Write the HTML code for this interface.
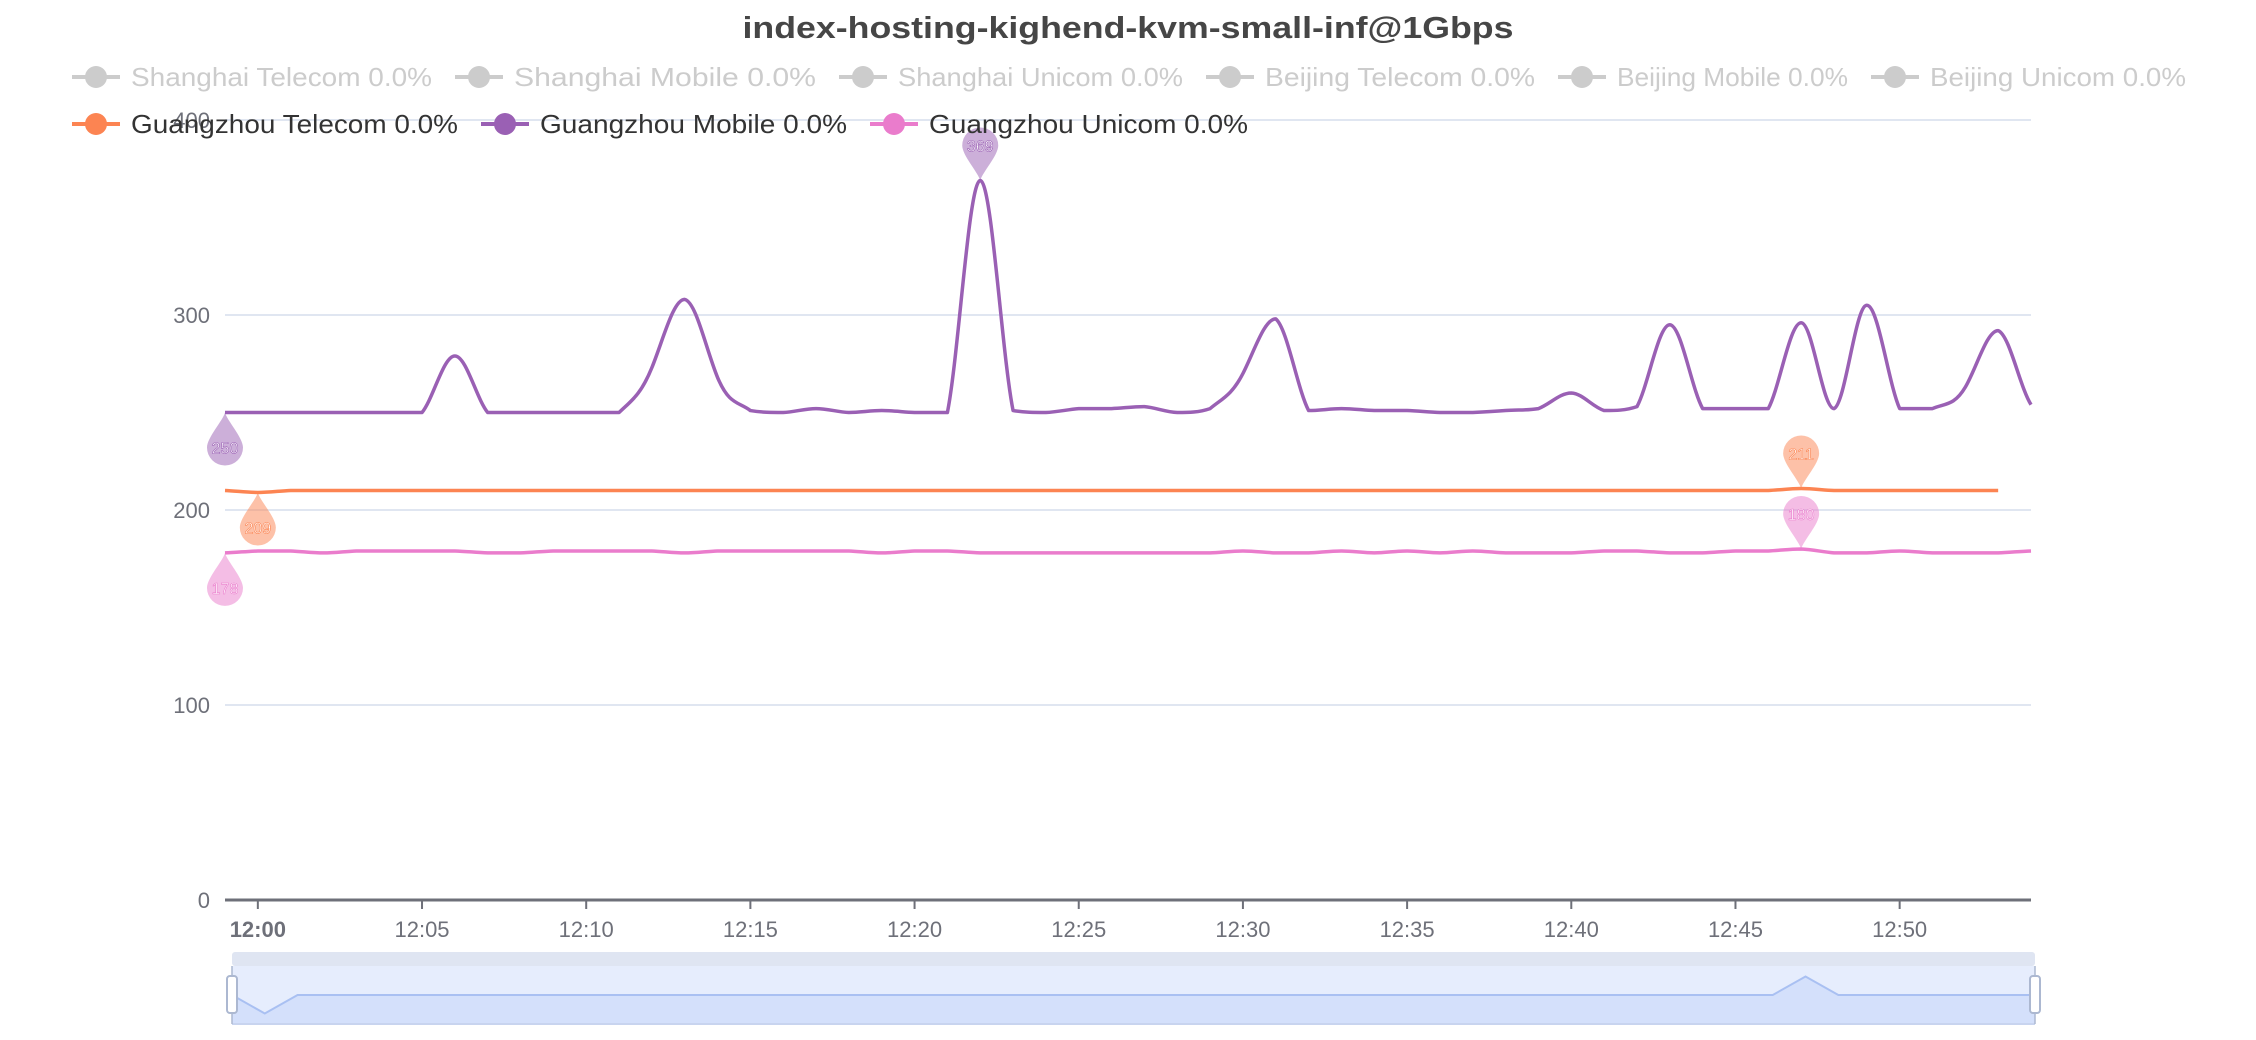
<!DOCTYPE html>
<html><head><meta charset="utf-8"><style>
html,body{margin:0;padding:0;background:#fff;}
svg{display:block;font-family:"Liberation Sans",Arial,sans-serif;}
</style></head><body>
<svg id="chart" width="2256" height="1040" viewBox="0 0 2256 1040" xmlns="http://www.w3.org/2000/svg">
<text x="1128" y="38" text-anchor="middle" font-size="31" font-weight="bold" fill="#464646" textLength="771" lengthAdjust="spacingAndGlyphs">index-hosting-kighend-kvm-small-inf@1Gbps</text>
<g id="grid"></g>
<g id="axes"></g>
<g id="series"></g>
<g id="markers"></g>
<g id="legend"></g>
<g id="zoom"></g>
</svg>
<script>
const minutes = [];
for (let i = 0; i <= 55; i++) minutes.push(i); // minutes since 11:59
const mobileValues = [250,250,250,250,250,250,250,279,250,250,250,250,250,273,308,268,251,250,252,250,251,250,250,369,251,250,252,252,253,250,252,270,298,251,252,251,251,250,250,251,252,260,251,253,295,252,252,252,296,252,305,252,252,263,292,254];
const telecomValues = [210,209,210,210,210,210,210,210,210,210,210,210,210,210,210,210,210,210,210,210,210,210,210,210,210,210,210,210,210,210,210,210,210,210,210,210,210,210,210,210,210,210,210,210,210,210,210,210,211,210,210,210,210,210,210];
const unicomValues = [178,179,179,178,179,179,179,179,178,178,179,179,179,179,178,179,179,179,179,179,178,179,179,178,178,178,178,178,178,178,178,179,178,178,179,178,179,178,179,178,178,178,179,179,178,178,179,179,180,178,178,179,178,178,178,179];
const yTicks = [0,100,200,300,400];
const xTickMinutes = [1,6,11,16,21,26,31,36,41,46,51];
const xTickLabels = ["12:00","12:05","12:10","12:15","12:20","12:25","12:30","12:35","12:40","12:45","12:50"];
const legendRow1 = ["Shanghai Telecom 0.0%","Shanghai Mobile 0.0%","Shanghai Unicom 0.0%","Beijing Telecom 0.0%","Beijing Mobile 0.0%","Beijing Unicom 0.0%"];
const legendRow2 = ["Guangzhou Telecom 0.0%","Guangzhou Mobile 0.0%","Guangzhou Unicom 0.0%"];

const NS = "http://www.w3.org/2000/svg";
const X0 = 225, X1 = 2031, Y0 = 900, YTOP = 120;
const xOf = m => X0 + (m - 0) / 55 * (X1 - X0);
const yOf = v => Y0 - v / 400 * (Y0 - YTOP);
function mk(tag, attrs, parent) {
  const e = document.createElementNS(NS, tag);
  for (const k in attrs) e.setAttribute(k, attrs[k]);
  parent.appendChild(e);
  return e;
}
function clamp(v, a, b) { const lo = Math.min(a, b), hi = Math.max(a, b); return Math.max(lo, Math.min(hi, v)); }
function smoothPath(xs, ys) {
  const n = xs.length;
  let d = "M" + xs[0] + "," + ys[0];
  const s = 0.25;
  for (let i = 1; i < n; i++) {
    const p0 = Math.max(0, i - 2), p3 = Math.min(n - 1, i + 1);
    let c1y = ys[i-1] + (ys[i] - ys[p0]) * s;
    let c2y = ys[i] - (ys[p3] - ys[i-1]) * s;
    c1y = clamp(c1y, ys[i-1], ys[i]);
    c2y = clamp(c2y, ys[i-1], ys[i]);
    const dx = (xs[i] - xs[i-1]) * 0.35;
    d += " C" + (xs[i-1] + dx) + "," + c1y + " " + (xs[i] - dx) + "," + c2y + " " + xs[i] + "," + ys[i];
  }
  return d;
}
const grid = document.getElementById('grid');
const axes = document.getElementById('axes');
yTicks.forEach(t => {
  if (t > 0) {
    const l = mk('line', {x1: X0, x2: X1, y1: yOf(t), y2: yOf(t), stroke: '#e0e6f1', 'stroke-width': 2}, grid);
    
    
  }
  const tx = mk('text', {x: 210, y: yOf(t) + 8, 'text-anchor': 'end', 'font-size': 22, fill: '#6e7079'}, axes);
  tx.textContent = t;
  
  
});
const axl = mk('line', {x1: X0, x2: X1, y1: Y0, y2: Y0, stroke: '#6e7079', 'stroke-width': 3}, axes);


xTickMinutes.forEach((m, i) => {
  const x = xOf(m);
  const tk = mk('line', {x1: x, x2: x, y1: Y0, y2: Y0 + 9, stroke: '#6e7079', 'stroke-width': 2}, axes);
  
  
  const tx = mk('text', {x: x, y: Y0 + 37, 'text-anchor': 'middle', 'font-size': 22, fill: '#6e7079', 'font-weight': i === 0 ? 'bold' : 'normal'}, axes);
  tx.textContent = xTickLabels[i];
  
  
});
const series = document.getElementById('series');
const defs = [
  {vals: telecomValues, color: '#fc8452', name: 'guangzhou-telecom-line'},
  {vals: unicomValues, color: '#ea7ccc', name: 'guangzhou-unicom-line'},
  {vals: mobileValues, color: '#9a60b4', name: 'guangzhou-mobile-line'}
];
defs.forEach(s => {
  const xs = s.vals.map((v, i) => xOf(minutes[i]));
  const ys = s.vals.map(v => yOf(v));
  const p = mk('path', {d: smoothPath(xs, ys), fill: 'none', stroke: s.color, 'stroke-width': 3.5, 'stroke-linejoin': 'round'}, series);
  
  
});
const markers = document.getElementById('markers');
function pin(m, v, color, up, name) {
  const x = xOf(m), y = yOf(v);
  const dir = up ? -1 : 1;
  const cy = y + dir * 35;
  const r = 18;
  const g = mk('g', {}, markers);
  
  
  const d = "M" + x + "," + y +
    " C" + (x + 2) + "," + (y + dir * 8) + " " + (x + r) + "," + (cy - dir * 10) + " " + (x + r) + "," + cy +
    " A" + r + "," + r + " 0 0 " + (up ? 0 : 1) + " " + (x - r) + "," + cy +
    " C" + (x - r) + "," + (cy - dir * 10) + " " + (x - 2) + "," + (y + dir * 8) + " " + x + "," + y + "Z";
  mk('path', {d: d, fill: color, 'fill-opacity': 0.5}, g);
  const t = mk('text', {x: x, y: cy + 6, 'text-anchor': 'middle', 'font-size': 16, fill: '#fff', stroke: color, 'stroke-width': 0.6}, g);
  t.textContent = v;
}
function argMax(a){let b=0;a.forEach((v,i)=>{if(v>a[b])b=i;});return b;}
function argMin(a){let b=0;a.forEach((v,i)=>{if(v<a[b])b=i;});return b;}
let i;
i = argMax(mobileValues); pin(minutes[i], mobileValues[i], '#9a60b4', true, 'mobile-max-marker');
i = argMin(mobileValues); pin(minutes[i], mobileValues[i], '#9a60b4', false, 'mobile-min-marker');
i = argMax(telecomValues); pin(minutes[i], telecomValues[i], '#fc8452', true, 'telecom-max-marker');
i = argMin(telecomValues); pin(minutes[i], telecomValues[i], '#fc8452', false, 'telecom-min-marker');
i = argMax(unicomValues); pin(minutes[i], unicomValues[i], '#ea7ccc', true, 'unicom-max-marker');
i = argMin(unicomValues); pin(minutes[i], unicomValues[i], '#ea7ccc', false, 'unicom-min-marker');
const legend = document.getElementById('legend');
const row1X = [72, 455, 839, 1206, 1558, 1871];
const row1End = [432, 816, 1183, 1535, 1848, 2186];
const row2X = [72, 481, 870];
const row2End = [458, 847, 1248];
const row2Col = ['#fc8452', '#9a60b4', '#ea7ccc'];
function legItem(x, end, y, label, color, textColor) {
  const g = mk('g', {}, legend);
  
  
  mk('line', {x1: x, x2: x + 48, y1: y, y2: y, stroke: color, 'stroke-width': 4}, g);
  mk('circle', {cx: x + 24, cy: y, r: 11, fill: color}, g);
  const t = mk('text', {x: x + 59, y: y + 9, 'font-size': 26, fill: textColor, textLength: end - x - 59, lengthAdjust: 'spacingAndGlyphs'}, g);
  t.textContent = label;
}
legendRow1.forEach((l, k) => legItem(row1X[k], row1End[k], 77, l, '#cccccc', '#cccccc'));
legendRow2.forEach((l, k) => legItem(row2X[k], row2End[k], 124, l, row2Col[k], '#333333'));
const zoom = document.getElementById('zoom');
const ZX0 = 232, ZX1 = 2035;
const zb = mk('rect', {x: ZX0, y: 952, width: ZX1 - ZX0, height: 14, rx: 3, fill: '#dfe5f2'}, zoom);


mk('rect', {x: ZX0, y: 966, width: ZX1 - ZX0, height: 58, fill: '#e6edfd'}, zoom);
const zx = m => ZX0 + m / 55 * (ZX1 - ZX0);
const zy = v => 995 - (v - 210) * 18.5;
let zd = "M" + zx(0) + "," + zy(telecomValues[0]);
telecomValues.forEach((v, k) => { zd += " L" + zx(minutes[k]) + "," + zy(v); });
zd += " L" + zx(55) + "," + zy(telecomValues[telecomValues.length - 1]);
const za = mk('path', {d: zd + " L" + zx(55) + ",1024 L" + zx(0) + ",1024Z", fill: '#d4e0fb'}, zoom);


mk('path', {d: zd, fill: 'none', stroke: '#a9c0f2', 'stroke-width': 2}, zoom);
mk('line', {x1: ZX0, x2: ZX1, y1: 1024, y2: 1024, stroke: '#c8d4ef', 'stroke-width': 2}, zoom);
[ZX0, ZX1].forEach((x, k) => {
  mk('line', {x1: x, x2: x, y1: 966, y2: 1024, stroke: '#acb8d1', 'stroke-width': 1.5}, zoom);
  const h = mk('rect', {x: x - 5, y: 976, width: 10, height: 37, rx: 3, fill: '#fff', stroke: '#acb8d1', 'stroke-width': 2}, zoom);
  
  
});
</script>
</body></html>
